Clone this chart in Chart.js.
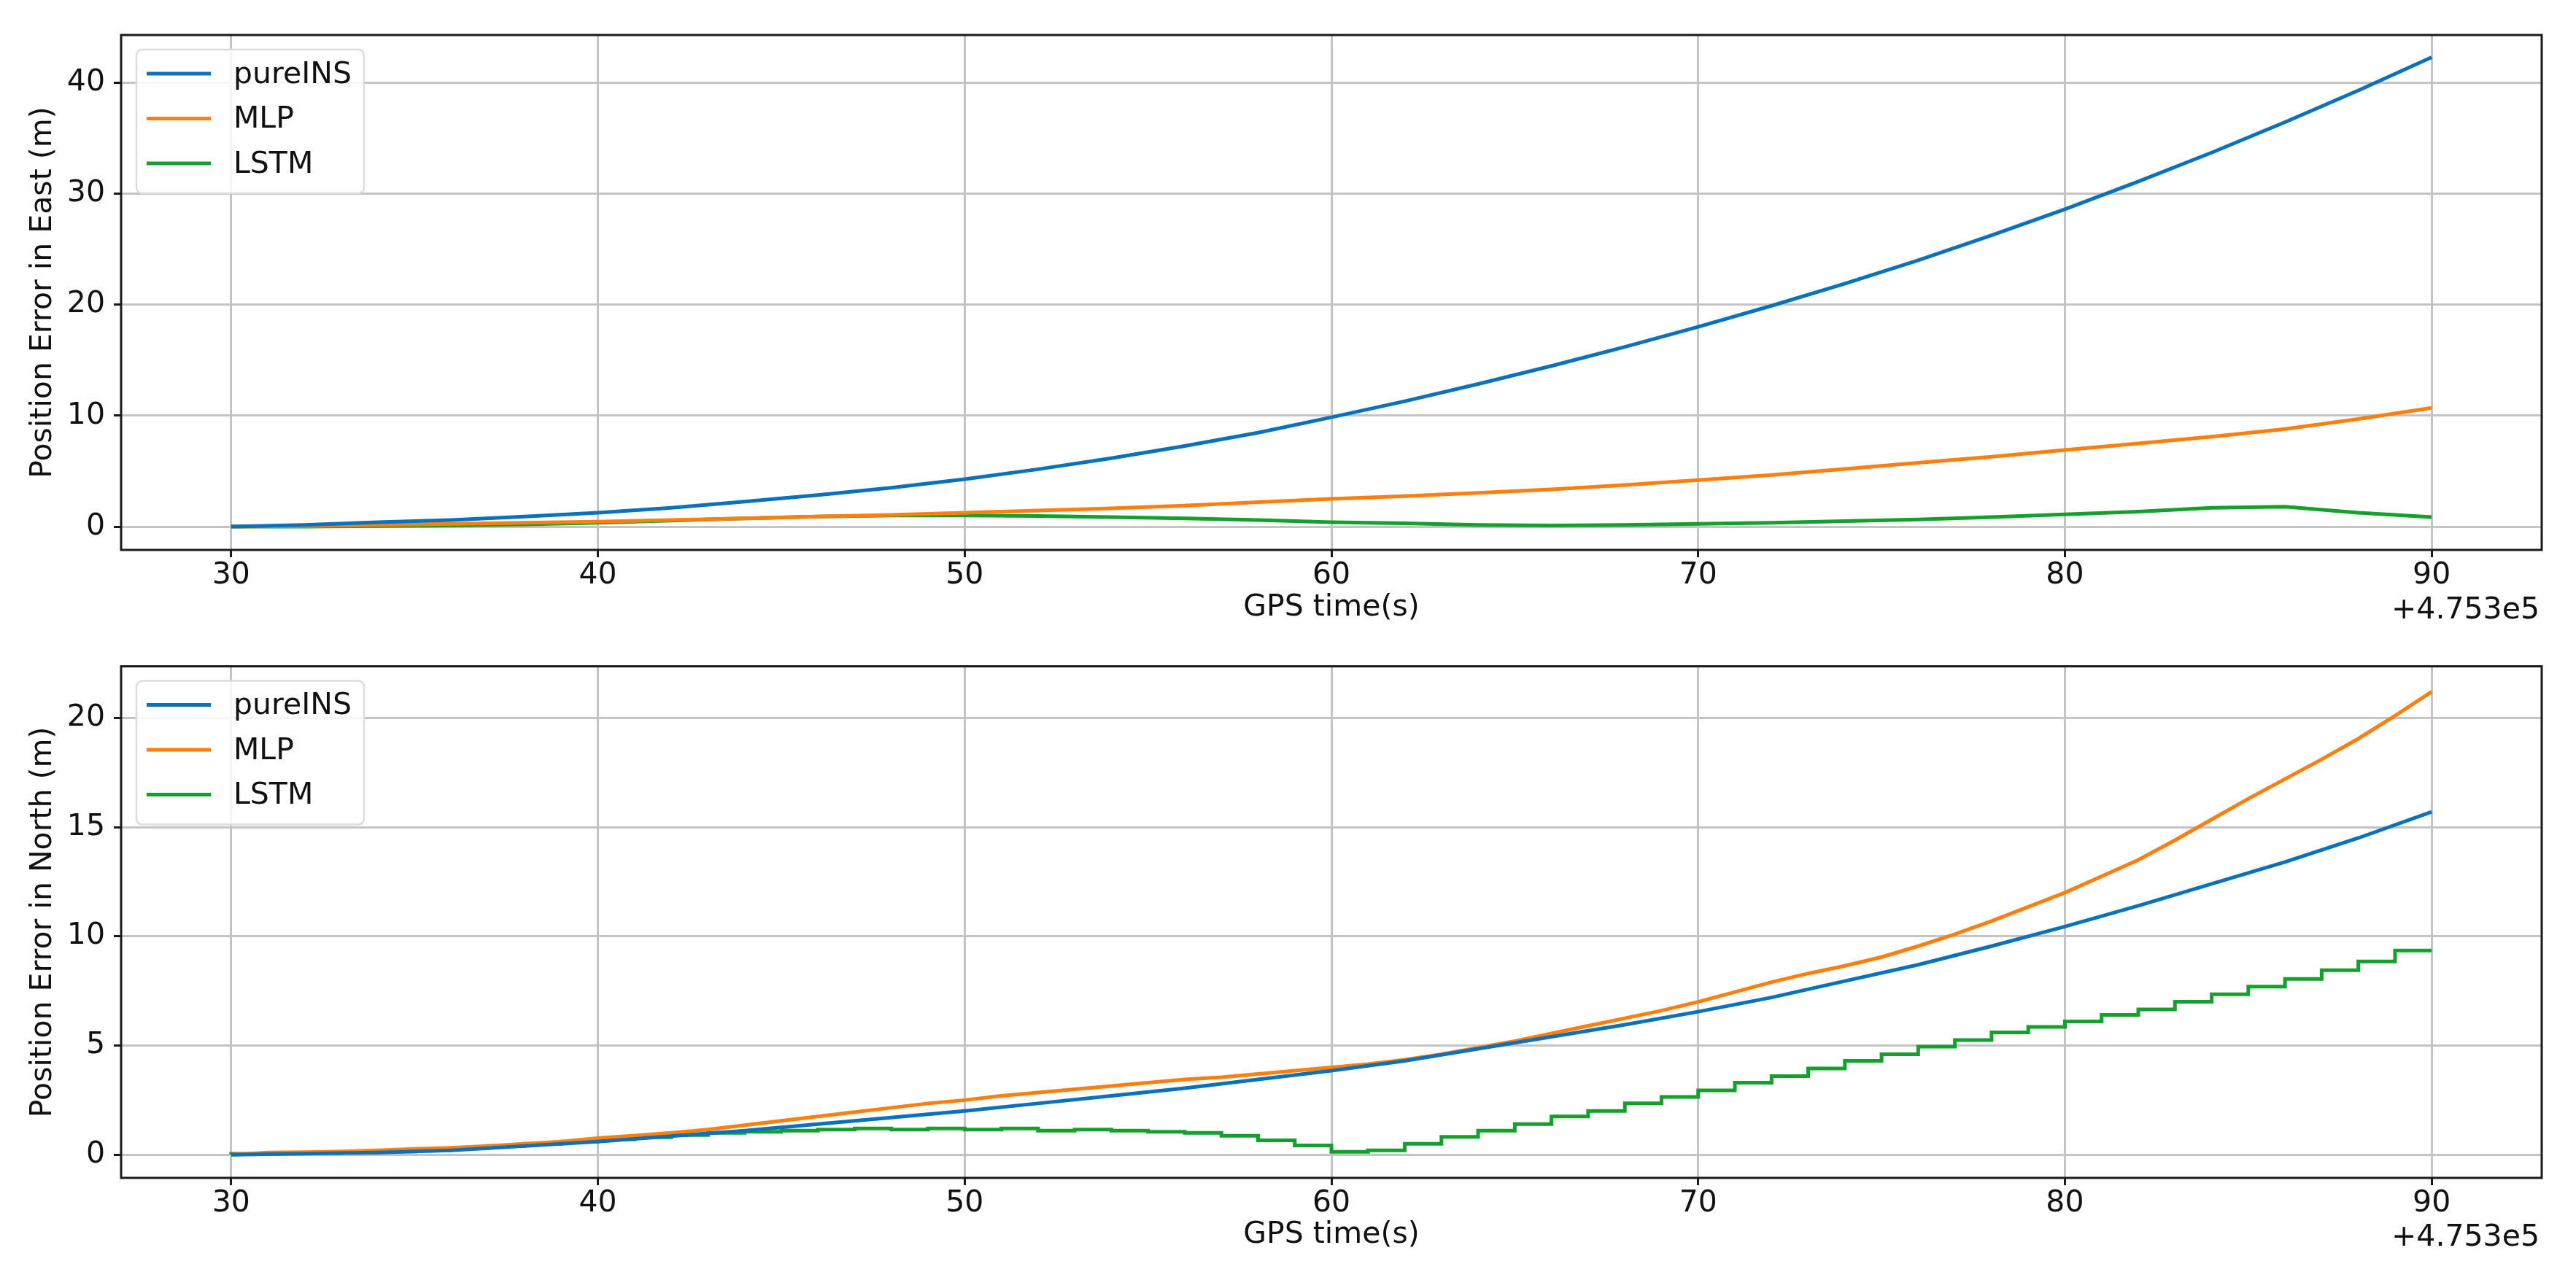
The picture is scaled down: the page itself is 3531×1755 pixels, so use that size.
<!DOCTYPE html>
<html>
<head>
<meta charset="utf-8">
<script src="https://cdn.jsdelivr.net/npm/chart.js@4.4.1/dist/chart.umd.min.js"></script>
<style>
    html, body { margin: 0; padding: 0; background: #fff; }
    #wrap { position: relative; width: 3531px; height: 1755px; }
    canvas { position: absolute; left: 0; }
</style>
</head>
<body>
<div id="wrap">
    <canvas id="eastChart" width="3531" height="877" style="top:0px"></canvas>
    <canvas id="northChart" width="3531" height="878" style="top:877px"></canvas>
</div>
<script>
// GPS time (s), offset +4.753e5
const timeCoarse = [30, 32, 34, 36, 38, 40, 42, 44, 46, 48, 50, 52, 54, 56, 58, 60,
    62, 64, 66, 68, 70, 72, 74, 76, 78, 80, 82, 84, 86, 88, 90];
const timeFine = [30, 31, 32, 33, 34, 35, 36, 37, 38, 39, 40, 41, 42, 43, 44, 45, 46, 47, 48, 49,
    50, 51, 52, 53, 54, 55, 56, 57, 58, 59, 60, 61, 62, 63, 64, 65, 66, 67, 68, 69,
    70, 71, 72, 73, 74, 75, 76, 77, 78, 79, 80, 81, 82, 83, 84, 85, 86, 87, 88, 89, 90];

// East error (m), on timeCoarse
const eastPureINS = [0, 0.15, 0.4, 0.6, 0.9, 1.25, 1.7, 2.25, 2.85, 3.5, 4.27, 5.17, 6.17, 7.27, 8.47, 9.85,
    11.3, 12.85, 14.48, 16.2, 18.0, 19.9, 21.9, 24.0, 26.25, 28.6, 31.1, 33.7, 36.45, 39.3, 42.3];
const eastMLP = [0, 0.05, 0.15, 0.25, 0.35, 0.45, 0.6, 0.75, 0.9, 1.05, 1.25, 1.45, 1.65, 1.9, 2.2, 2.5,
    2.75, 3.05, 3.35, 3.75, 4.2, 4.65, 5.2, 5.75, 6.3, 6.9, 7.5, 8.1, 8.8, 9.7, 10.7];
const eastLSTM = [0, 0, 0.05, 0.1, 0.2, 0.35, 0.55, 0.75, 0.9, 1.0, 1.0, 0.95, 0.85, 0.75, 0.6, 0.4,
    0.3, 0.15, 0.1, 0.15, 0.25, 0.35, 0.5, 0.65, 0.85, 1.1, 1.35, 1.7, 1.8, 1.25, 0.85];

// North error (m)
const northPureINS = [0, 0.05, 0.1, 0.2, 0.4, 0.6, 0.85, 1.1, 1.4, 1.7, 2.0, 2.35, 2.7, 3.05, 3.45, 3.85,
    4.3, 4.85, 5.4, 5.95, 6.55, 7.2, 7.95, 8.7, 9.55, 10.45, 11.4, 12.4, 13.4, 14.5, 15.7];
const northMLP = [0, 0.1, 0.12, 0.15, 0.2, 0.27, 0.32, 0.4, 0.5, 0.6, 0.76, 0.88, 1.0, 1.15, 1.35, 1.55,
    1.75, 1.95, 2.15, 2.35, 2.5, 2.7, 2.85, 3.0, 3.15, 3.3, 3.45, 3.55, 3.7, 3.85, 4.0,
    4.15, 4.35, 4.6, 4.9, 5.2, 5.55, 5.9, 6.25, 6.6, 7.0, 7.45, 7.9, 8.3, 8.65, 9.05,
    9.55, 10.1, 10.7, 11.35, 12.0, 12.75, 13.5, 14.4, 15.35, 16.3, 17.2, 18.1, 19.05, 20.1, 21.2];
const northLSTM = [0.02, 0.04, 0.06, 0.08, 0.1, 0.15, 0.22, 0.3, 0.4, 0.5, 0.6, 0.7, 0.8, 0.9, 1.0, 1.05,
    1.1, 1.15, 1.2, 1.15, 1.2, 1.15, 1.2, 1.1, 1.15, 1.1, 1.05, 1.0, 0.87, 0.66, 0.43,
    0.13, 0.2, 0.5, 0.82, 1.1, 1.4, 1.75, 2.0, 2.35, 2.65, 2.95, 3.3, 3.6, 3.95, 4.3,
    4.6, 4.95, 5.25, 5.6, 5.85, 6.1, 6.4, 6.65, 7.0, 7.35, 7.7, 8.05, 8.45, 8.85, 9.35];

const xTicks = [30, 40, 50, 60, 70, 80, 90];
const eastTicks = [0, 10, 20, 30, 40];
const northTicks = [0, 5, 10, 15, 20];

const FONT = 'DejaVu Sans';
const BLUE = '#0a72bd';
const ORANGE = '#ff7f0e';
const GREEN = '#14a02c';

function points(xs, ys) {
    return xs.map((x, i) => ({ x: x, y: ys[i] }));
}

// frame, legend box and the "+4.753e5" offset text
const axesDecor = {
    id: 'axesDecor',
    afterDraw(chart, args, opts) {
        const { ctx, chartArea: { left, top, right, bottom } } = chart;
        ctx.save();

        // legend
        const bx = left + 21, by = top + 20, bw = 312, bh = 197;
        ctx.beginPath();
        ctx.roundRect(bx, by, bw, bh, 8);
        ctx.fillStyle = 'rgba(255,255,255,0.85)';
        ctx.fill();
        ctx.strokeStyle = '#dcdcdc';
        ctx.lineWidth = 2.5;
        ctx.stroke();

        chart.data.datasets.forEach((ds, i) => {
            const ly = top + 53 + i * 61.5;
            ctx.beginPath();
            ctx.strokeStyle = ds.borderColor;
            ctx.lineWidth = 5;
            ctx.moveTo(left + 35, ly);
            ctx.lineTo(left + 123, ly);
            ctx.stroke();
            ctx.fillStyle = '#111';
            ctx.font = `41px "${FONT}"`;
            ctx.textAlign = 'left';
            ctx.textBaseline = 'middle';
            ctx.fillText(ds.label, left + 154, ly + 2);
        });

        // axes frame
        ctx.strokeStyle = '#1a1a1a';
        ctx.lineWidth = 3;
        ctx.strokeRect(left, top, right - left, bottom - top);

        // offset text
        ctx.fillStyle = '#111';
        ctx.font = `41px "${FONT}"`;
        ctx.textAlign = 'right';
        ctx.textBaseline = 'middle';
        ctx.fillText(opts.offsetText, right - 3, opts.offsetY);
        ctx.restore();
    }
};

function createPanel(canvasId, cfg) {
    const el = document.getElementById(canvasId);

    const data = {
        datasets: [
            { label: 'pureINS', data: points(cfg.insTime, cfg.ins), borderColor: BLUE },
            { label: 'MLP', data: points(cfg.mlpTime, cfg.mlp), borderColor: ORANGE },
            { label: 'LSTM', data: points(cfg.lstmTime, cfg.lstm), borderColor: GREEN, stepped: cfg.lstmStepped }
        ]
    };
    data.datasets.forEach(ds => {
        ds.borderWidth = 5;
        ds.pointRadius = 0;
        ds.tension = 0;
        ds.fill = false;
    });

    const config = {
        type: 'line',
        data,
        options: {
            responsive: false,
            animation: false,
            devicePixelRatio: 1,
            layout: {
                padding: { top: cfg.padTop, right: 47, left: 0, bottom: 0 }
            },
            plugins: {
                legend: { display: false },
                tooltip: { enabled: false },
                axesDecor: { offsetText: '+4.753e5', offsetY: cfg.offsetY }
            },
            scales: {
                x: {
                    type: 'linear',
                    min: 27,
                    max: 93,
                    afterBuildTicks: (scale) => { scale.ticks = xTicks.map(v => ({ value: v })); },
                    afterFit: (scale) => { scale.height = cfg.xAxisHeight; },
                    grid: {
                        color: '#c4c4c4',
                        lineWidth: 3,
                        tickLength: 10,
                        tickColor: '#1a1a1a',
                        tickWidth: 3
                    },
                    border: { display: false },
                    ticks: {
                        color: '#111',
                        padding: 1,
                        maxRotation: 0,
                        font: { family: FONT, size: 41 }
                    },
                    title: {
                        display: true,
                        text: 'GPS time(s)',
                        color: '#111',
                        font: { family: FONT, size: 41 },
                        padding: { top: 0, bottom: cfg.xTitlePad }
                    }
                },
                y: {
                    min: cfg.yMin,
                    max: cfg.yMax,
                    afterBuildTicks: (scale) => { scale.ticks = cfg.yTicks.map(v => ({ value: v })); },
                    afterFit: (scale) => { scale.width = 166; },
                    grid: {
                        color: '#c4c4c4',
                        lineWidth: 3,
                        tickLength: 10,
                        tickColor: '#1a1a1a',
                        tickWidth: 3
                    },
                    border: { display: false },
                    ticks: {
                        color: '#111',
                        padding: 12,
                        font: { family: FONT, size: 41 }
                    },
                    title: {
                        display: true,
                        text: cfg.yTitle,
                        color: '#111',
                        font: { family: FONT, size: 41 },
                        padding: { top: 35, bottom: 0 }
                    }
                }
            }
        },
        plugins: [axesDecor]
    };

    return new Chart(el, config);
}

createPanel('eastChart', {
    insTime: timeCoarse, ins: eastPureINS,
    mlpTime: timeCoarse, mlp: eastMLP,
    lstmTime: timeCoarse, lstm: eastLSTM, lstmStepped: false,
    yMin: -2.1, yMax: 44.3, yTicks: eastTicks,
    yTitle: 'Position Error in East (m)',
    padTop: 48, xAxisHeight: 123, xTitlePad: 19, offsetY: 837
});

createPanel('northChart', {
    insTime: timeCoarse, ins: northPureINS,
    mlpTime: timeFine, mlp: northMLP,
    lstmTime: timeFine, lstm: northLSTM, lstmStepped: 'after',
    yMin: -1.06, yMax: 22.36, yTicks: northTicks,
    yTitle: 'Position Error in North (m)',
    padTop: 31, xAxisHeight: 140, xTitlePad: 37, offsetY: 820
});
</script>
</body>
</html>
